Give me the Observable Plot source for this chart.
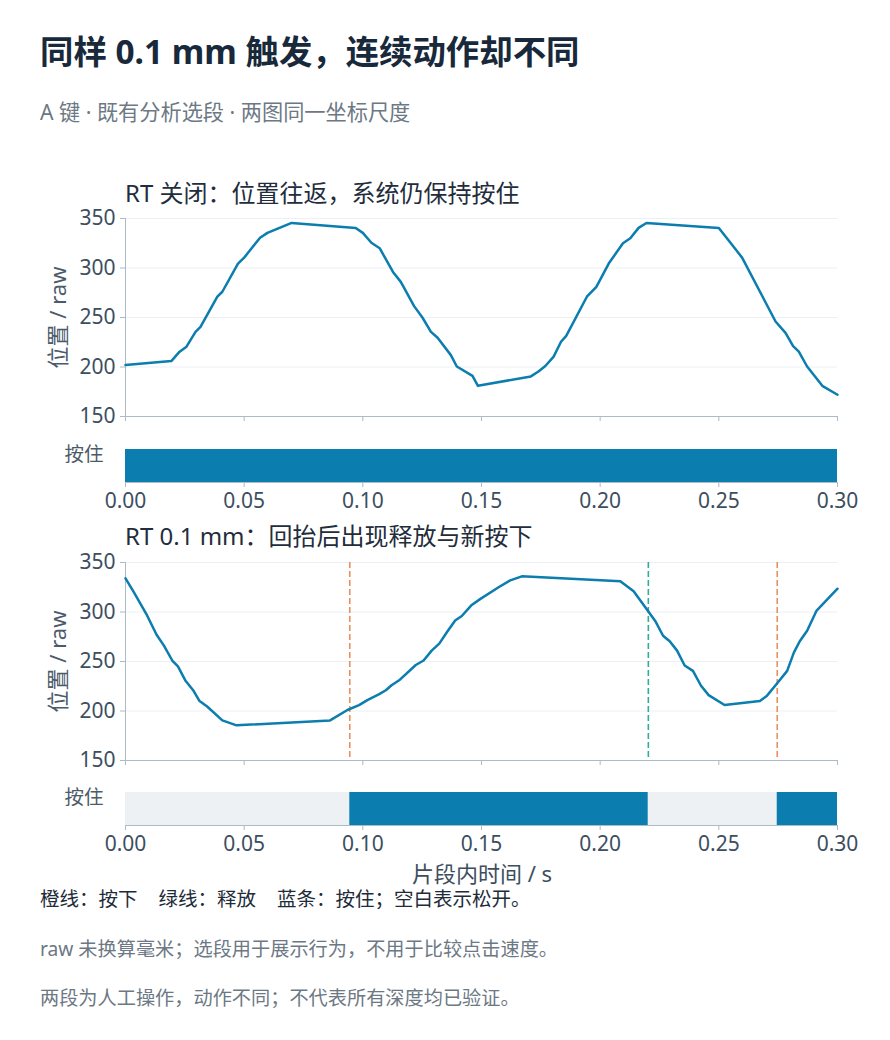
<!DOCTYPE html>
<html><head><meta charset="utf-8">
<script src="https://cdn.jsdelivr.net/npm/d3@7"></script>
<script src="https://cdn.jsdelivr.net/npm/@observablehq/plot@0.6"></script>
<style>
body{margin:0;background:#fff;}
#root{position:relative;width:890px;height:1040px;overflow:hidden;font-family:"Noto Sans","Noto Sans CJK SC",sans-serif;background:#fff;}
.t{position:absolute;white-space:nowrap;line-height:1;}
.box{position:absolute;left:0;}
.box svg{display:block;overflow:visible;}
</style></head><body><div id="root"></div>
<script>
// ---- data ----
const xTicks = [0, 0.05, 0.10, 0.15, 0.20, 0.25, 0.30];
const yTicks = [150, 200, 250, 300, 350];

// RT off
const tOff = [0, 0.0193, 0.0228, 0.0257, 0.0295, 0.0316, 0.0387, 0.0408, 0.0474, 0.050, 0.0567, 0.0598, 0.070, 0.097, 0.100, 0.1036, 0.1071, 0.1127, 0.116, 0.1216, 0.1251, 0.1287, 0.1315, 0.1371, 0.1396, 0.1462, 0.1485, 0.1708, 0.174, 0.1769, 0.1804, 0.1835, 0.1857, 0.1944, 0.1984, 0.2036, 0.2096, 0.2127, 0.2162, 0.2195, 0.25, 0.2549, 0.2598, 0.2739, 0.2781, 0.2813, 0.2837, 0.2872, 0.2936, 0.30];
const vOff = [202, 206, 215.5, 220.5, 235.5, 240.5, 271, 276, 304.5, 310.5, 330.5, 335.5, 345.5, 340.5, 335.5, 325.5, 320, 296, 286, 261.5, 250, 235.5, 229.5, 212, 200.5, 191, 181, 190.5, 195.5, 201, 210.5, 225.5, 231.5, 271, 281, 304.5, 325, 330, 340.5, 345.5, 340.5, 325.5, 310.5, 246, 234.5, 221, 215.5, 200.5, 181, 172];
const segOffStart = [0];
const segOffEnd = [0.30];
const segOffHeld = [true];

// RT 0.1 mm
const tRt = [0, 0.0035, 0.0091, 0.0131, 0.0162, 0.0197, 0.0221, 0.0253, 0.0285, 0.0312, 0.0344, 0.0408, 0.0468, 0.0862, 0.0935, 0.0984, 0.1019, 0.1069, 0.1097, 0.1121, 0.1153, 0.1223, 0.1256, 0.129, 0.1322, 0.1354, 0.1389, 0.1417, 0.1456, 0.1494, 0.1572, 0.1621, 0.167, 0.2085, 0.2141, 0.2197, 0.2232, 0.2265, 0.2293, 0.2324, 0.2356, 0.2391, 0.2425, 0.2457, 0.2524, 0.2673, 0.2703, 0.2746, 0.2788, 0.2816, 0.2841, 0.2872, 0.2912, 0.30];
const vRt = [334, 320, 296.5, 277, 266, 251, 245, 230.5, 221, 210, 204.5, 190.5, 185.5, 190.5, 201, 206, 211, 217, 221, 226, 231, 246.5, 251, 261, 268, 279.5, 291.5, 296, 306.5, 313, 325, 332, 336, 331, 321, 302.5, 291, 276, 270.5, 261, 246, 240.5, 225.5, 216, 206, 210, 215.5, 228, 240.5, 259, 270.5, 281, 301.5, 323.5];
const pressTimes = [0.0945, 0.2746];
const releaseTimes = [0.2203];
const segRtStart = [0, 0.0945, 0.2203, 0.2746];
const segRtEnd = [0.0945, 0.2203, 0.2746, 0.30];
const segRtHeld = [false, true, false, true];

// ---- styles ----
const BLUE = "#0b7dae", LIGHT = "#edf1f4", ORANGE = "#e8915c", GREEN = "#35a99a";
const AXIS = "#adbac8", GRID = "#edf0f3", TICKTXT = "#3d4e5f";
const FONT = '"Noto Sans","Noto Sans CJK SC",sans-serif';
const root = document.getElementById("root");

function addText(txt, left, top, size, color, weight) {
  const d = document.createElement("div");
  d.className = "t";
  d.style.left = left + "px"; d.style.top = top + "px";
  d.style.fontSize = size + "px"; d.style.color = color;
  if (weight) d.style.fontWeight = weight;
  d.innerHTML = txt;
  root.appendChild(d);
  return d;
}
function addSvg(svg, top) {
  const b = document.createElement("div");
  b.className = "box"; b.style.top = top + "px";
  b.appendChild(svg); root.appendChild(b);
}

function linePlot(t, v, rules) {
  const data = t.map((d, i) => ({t: d, v: v[i]}));
  return Plot.plot({
    width: 890, height: 229, marginLeft: 125, marginRight: 53, marginTop: 13, marginBottom: 18,
    style: {fontFamily: FONT, fontSize: "21px", color: TICKTXT, background: "transparent", overflow: "visible"},
    x: {domain: [0, 0.3]},
    y: {domain: [150, 350]},
    marks: [
      Plot.gridY(yTicks.slice(1), {stroke: GRID, strokeOpacity: 1}),
      Plot.axisY(yTicks, {tickSize: 5, tickPadding: 5, color: TICKTXT, stroke: AXIS, label: null}),
      Plot.axisY(yTicks, {tickSize: 0, fontSize: 22, color: "#4a5a6b", tickFormat: () => "", label: "位置 / raw", labelAnchor: "center", labelArrow: "none", labelOffset: 75}),
      Plot.axisX(xTicks, {tickSize: 5, stroke: AXIS, tickFormat: () => "", label: null}),
      Plot.ruleY([150], {stroke: AXIS}),
      Plot.ruleX([0], {stroke: AXIS}),
      ...rules,
      Plot.line(data, {x: "t", y: "v", stroke: BLUE, strokeWidth: 2.5, strokeLinejoin: "round"})
    ]
  });
}

function barPlot(starts, ends, held) {
  const data = starts.map((s, i) => ({s, e: ends[i], h: held[i], k: "按住"}));
  return Plot.plot({
    width: 890, height: 74, marginLeft: 125, marginRight: 53, marginTop: 9, marginBottom: 32,
    style: {fontFamily: FONT, fontSize: "21px", color: TICKTXT, background: "transparent", overflow: "visible"},
    x: {domain: [0, 0.3]},
    y: {domain: ["按住"], padding: 0},
    marks: [
      Plot.barX(data, {x1: "s", x2: "e", y: "k", fill: d => d.h ? BLUE : LIGHT}),
      Plot.axisY({tickSize: 0, tickPadding: 22, dy: -11, fontSize: 19.5, color: "#4d5b69", label: null}),
      Plot.axisX(xTicks, {tickSize: 5, tickPadding: 6, stroke: AXIS, color: TICKTXT, tickFormat: d3.format(".2f"), label: null}),
      Plot.frame({anchor: "bottom", stroke: AXIS})
    ]
  });
}

// ---- layout ----
addText("同样 0.1 mm 触发，连续动作却不同", 40, 52 - 0.52 * 33.4, 33.4, "#17293a", 700);
addText("A 键 · 既有分析选段 · 两图同一坐标尺度", 40, 112.5 - 0.52 * 21.2, 21.2, "#6c7884");

addText("RT 关闭：位置往返，系统仍保持按住", 125, 193 - 0.52 * 24, 24, "#1f2d3d");
addSvg(linePlot(tOff, vOff, []), 205);
addSvg(barPlot(segOffStart, segOffEnd, segOffHeld), 440);

addText("RT 0.1 mm：回抬后出现释放与新按下", 125, 536.5 - 0.52 * 24, 24, "#1f2d3d");
addSvg(linePlot(tRt, vRt, [
  Plot.ruleX(pressTimes, {stroke: ORANGE, strokeWidth: 1.6, strokeDasharray: "6,3"}),
  Plot.ruleX(releaseTimes, {stroke: GREEN, strokeWidth: 1.6, strokeDasharray: "6,3"})
]), 549);
addSvg(barPlot(segRtStart, segRtEnd, segRtHeld), 783);

const xl = addText("片段内时间 / s", 0, 873 - 0.52 * 22, 22, "#3d4e5f");
xl.style.left = (482 - xl.offsetWidth / 2) + "px";

addText('橙线：按下<span style="margin-left:21px"></span>绿线：释放<span style="margin-left:21px"></span>蓝条：按住；空白表示松开。', 40, 899.5 - 0.52 * 19.5, 19.5, "#1e2b38");
addText("raw 未换算毫米；选段用于展示行为，不用于比较点击速度。", 40, 949 - 0.52 * 19.2, 19.2, "#6c7884");
addText("两段为人工操作，动作不同；不代表所有深度均已验证。", 40, 997.5 - 0.52 * 19.2, 19.2, "#6c7884");
</script>
</body></html>
